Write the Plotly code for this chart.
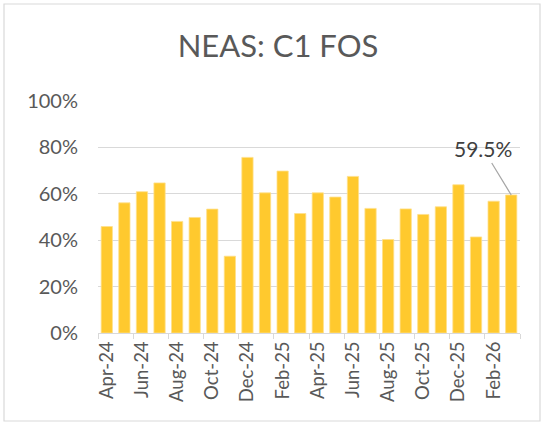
import plotly.graph_objects as go

months = ["Apr-24", "May-24", "Jun-24", "Jul-24", "Aug-24", "Sep-24", "Oct-24", "Nov-24",
          "Dec-24", "Jan-25", "Feb-25", "Mar-25", "Apr-25", "May-25", "Jun-25", "Jul-25",
          "Aug-25", "Sep-25", "Oct-25", "Nov-25", "Dec-25", "Jan-26", "Feb-26", "Mar-26"]
fos = [0.459, 0.561, 0.609, 0.647, 0.481, 0.498, 0.534, 0.331,
       0.757, 0.604, 0.698, 0.515, 0.604, 0.586, 0.675, 0.537,
       0.403, 0.535, 0.511, 0.544, 0.639, 0.414, 0.568, 0.595]
title_text = "NEAS: C1 FOS"
label_text = "59.5%"

W, H = 544, 425
L, R, T, B = 98, 24, 101, 92
pw, ph = W - L - R, H - T - B

fig = go.Figure(go.Bar(
    x=months, y=fos,
    marker=dict(color="#FFC92E", line=dict(color="#FFE08A", width=0.8)),
))

fig.update_layout(
    width=W, height=H,
    margin=dict(l=L, r=R, t=T, b=B, autoexpand=False),
    paper_bgcolor="white", plot_bgcolor="white",
    bargap=0.36,
    showlegend=False,
    font=dict(family="Lato", color="#595959"),
    title=dict(text=title_text, x=278 / W, xanchor="center", xref="container",
               y=1 - 46 / H, yanchor="middle", yref="container",
               font=dict(size=31, color="#595959", family="Lato")),
)

fig.update_yaxes(
    range=[0, 1], tickmode="linear", tick0=0, dtick=0.2, tickformat=".0%",
    showgrid=True, gridcolor="#D9D9D9", gridwidth=1,
    zeroline=False, showline=False, ticks="", automargin=False,
    tickfont=dict(size=20, color="#595959"), ticklabelstandoff=19,
)
fig.update_xaxes(
    type="category", tickmode="linear", tick0=0, dtick=2,
    tickson="boundaries", ticks="outside", ticklen=5, tickcolor="#D9D9D9",
    showline=True, linecolor="#D9D9D9", linewidth=1, automargin=False,
    tickangle=-90, tickfont=dict(size=18.5, color="#595959"),
    showgrid=False,
)

fig.add_annotation(
    x=months[-1], y=fos[-1], text=label_text,
    showarrow=True, arrowhead=0, arrowwidth=1.2, arrowcolor="#A6A6A6",
    ax=-28, ay=-46, standoff=0,
    font=dict(size=21, color="#404040", family="Lato"),
)

# chart-area border
fig.add_shape(
    type="rect", xref="paper", yref="paper",
    x0=(4 - L) / pw, x1=(540 - L) / pw,
    y0=(T + ph - 421) / ph, y1=(T + ph - 4) / ph,
    line=dict(color="#D9D9D9", width=1.2), fillcolor="rgba(0,0,0,0)", layer="below",
)

fig.write_html("out.html", config={"displayModeBar": False},
               post_script="document.body.style.margin='0';document.body.style.overflow='hidden';")
